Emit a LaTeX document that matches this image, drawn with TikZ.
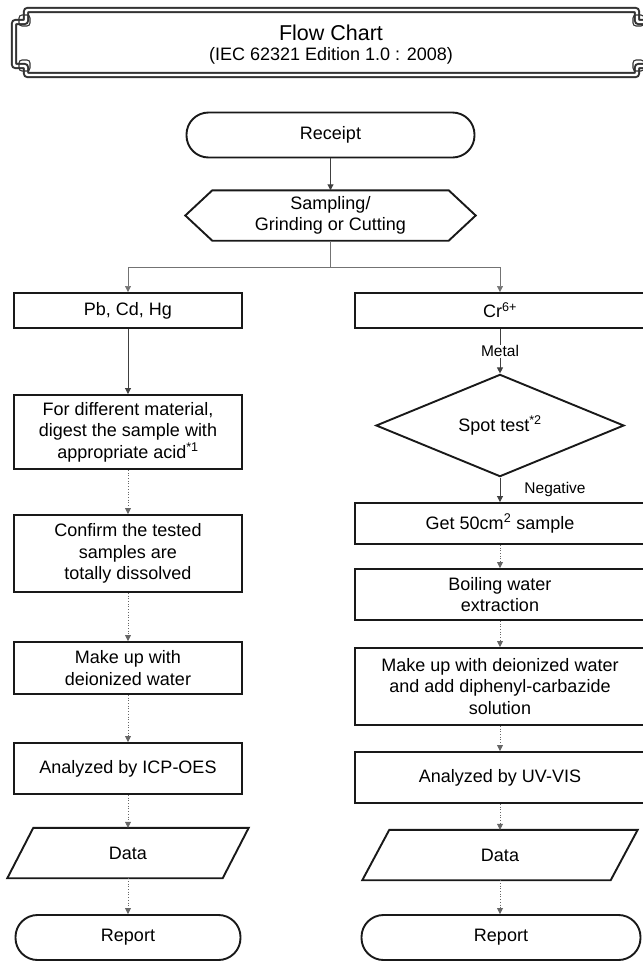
\documentclass[tikz,border=0pt]{standalone}
\usepackage{fontspec}
\setmainfont{Liberation Sans}
\usetikzlibrary{arrows.meta,shapes.geometric,calc}
\begin{document}
\begin{tikzpicture}[x=1pt,y=-1pt,
  every node/.style={font=\fontsize{18}{21.5}\selectfont, align=center, inner sep=0pt},
  outl/.style={draw=black!90, line width=1.9pt},
  box/.style={outl, minimum width=228pt},
  rbox/.style={outl, minimum width=290pt},
  term/.style={outl, rounded corners=22pt, minimum height=45pt},
  tip/.style={-{Triangle[length=6pt,width=6pt]}},
  solidarr/.style={tip, draw=black!75, line width=0.9pt},
  dotarr/.style={tip, draw=black!60, line width=0.7pt, dotted},
  splitln/.style={draw=black!55, line width=0.6pt},
  frame/.style={draw=black!80, line width=2pt, double=white, double distance=2.4pt, rounded corners=2pt},
  notch/.style={draw=black!80, line width=1.1pt, rounded corners=3pt},
  lbl/.style={font=\fontsize{15.5}{18}\selectfont}
]
\useasboundingbox (0,0) rectangle (643,962);

% title banner
\draw[frame] (26,10) -- (637,10) -- (637,22) -- (649,22) -- (649,66) -- (637,66) -- (637,75) -- (26,75) -- (26,66) -- (14,66) -- (14,22) -- (26,22) -- cycle;
\draw[notch] (19,15) rectangle (30,26);
\draw[notch] (19,60) rectangle (30,71);
\draw[notch] (633,15) rectangle (644,26);
\draw[notch] (633,60) rectangle (644,71);
\node[font=\fontsize{21.5}{24}\selectfont] (t1) at (331,32.5) {Flow Chart};
\node[font=\fontsize{18}{21}\selectfont] (t2) at (331,55.5) {(IEC 62321 Edition 1.0 : 2008)};

% top
\node[term, minimum width=288pt] (receipt) at (330.5,135) {Receipt};
\node[minimum width=290pt, minimum height=50pt] (samp) at (330.5,215.5) {Sampling/\\Grinding or Cutting};
\draw[outl] (samp.west) -- ($(samp.north west)+(27,0)$) -- ($(samp.north east)+(-27,0)$) -- (samp.east) -- ($(samp.south east)+(-27,0)$) -- ($(samp.south west)+(27,0)$) -- cycle;

% left column
\node[box, minimum height=35pt] (pb) at (128,310.5) {Pb, Cd, Hg};
\node[box, minimum height=74pt] (dig) at (128,432) {For different material,\\digest the sample with\\appropriate acid\textsuperscript{*1}};
\node[box, minimum height=77pt] (conf) at (128,553.5) {Confirm the tested\\samples are\\totally dissolved};
\node[box, minimum height=52pt] (mku) at (128,668) {Make up with\\deionized water};
\node[box, minimum height=51pt] (icp) at (128,768.5) {Analyzed by ICP-OES};
\node[minimum width=215pt, minimum height=50pt] (datal) at (128,853) {Data};
\draw[outl] ($(datal.south west)+(-13,0)$) -- ($(datal.north west)+(13,0)$) -- ($(datal.north east)+(13,0)$) -- ($(datal.south east)+(-13,0)$) -- cycle;
\node[term, minimum width=225pt] (repl) at (128,937.5) {Report};

% right column
\node[rbox, minimum height=35pt] (cr) at (500,310.5) {Cr\textsuperscript{6+}};
\node[diamond, outl, minimum width=248pt, minimum height=65pt] (spot) at (500,425.5) {Spot test\textsuperscript{*2}};
\node[rbox, minimum height=41pt] (get) at (500,523.5) {Get 50cm\textsuperscript{2} sample};
\node[rbox, minimum height=51pt] (boil) at (500,594.5) {Boiling water\\extraction};
\node[rbox, minimum height=77pt] (mkr) at (500,686.5) {Make up with deionized water\\and add diphenyl-carbazide\\solution};
\node[rbox, minimum height=51pt] (uv) at (500,777.5) {Analyzed by UV-VIS};
\node[minimum width=248pt, minimum height=50pt] (datar) at (500,855) {Data};
\draw[outl] ($(datar.south west)+(-13.5,0)$) -- ($(datar.north west)+(13.5,0)$) -- ($(datar.north east)+(13.5,0)$) -- ($(datar.south east)+(-13.5,0)$) -- cycle;
\node[term, minimum width=279pt] (repr) at (501,937.5) {Report};

% connectors
\draw[solidarr] (receipt.south) -- (samp.north);
\draw[splitln] (samp.south) -- ++(0,27) coordinate (split);
\draw[splitln, tip] (split) -| (pb.north);
\draw[splitln, tip] (split) -| (cr.north);

\draw[solidarr] (pb) -- (dig);
\draw[dotarr] (dig) -- (conf);
\draw[dotarr] (conf) -- (mku);
\draw[dotarr] (mku) -- (icp);
\draw[dotarr] (icp) -- (datal);
\draw[dotarr] (datal) -- (repl);

\draw[solidarr] (cr) -- node[lbl, fill=white, inner sep=1pt] (metal) {Metal} (spot);
\draw[solidarr] (spot) -- node[lbl, right=24pt] (neg) {Negative} (get);
\draw[dotarr] (get) -- (boil);
\draw[dotarr] (boil) -- (mkr);
\draw[dotarr] (mkr) -- (uv);
\draw[dotarr] (uv) -- (datar);
\draw[dotarr] (datar.south) -- (datar.south |- repr.north);
\end{tikzpicture}
\end{document}
